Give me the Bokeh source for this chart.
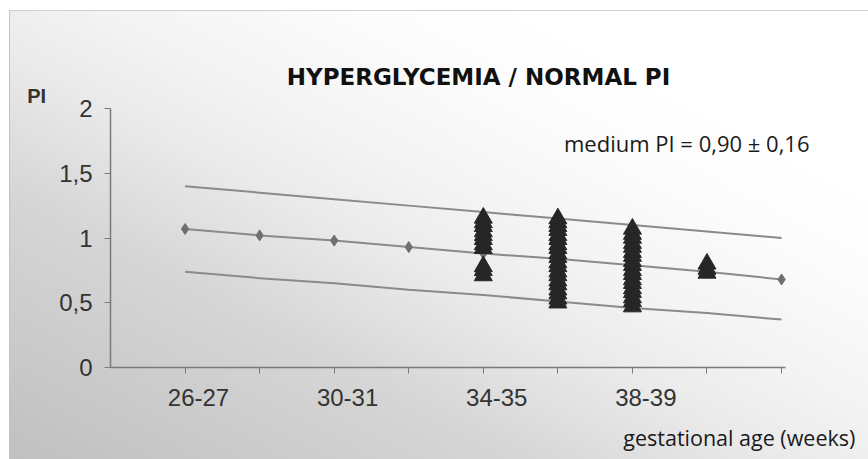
from bokeh.plotting import figure
from bokeh.models import Label, FixedTicker, Range1d
from bokeh.embed import file_html
from bokeh.resources import INLINE

# ---- data ----
categories = ["26-27", "28-29", "30-31", "32-33", "34-35", "36-37", "38-39", "40-41", "42-43"]
shown_labels = ["26-27", "30-31", "34-35", "38-39"]
upper_limit = [1.40, 1.35, 1.30, 1.25, 1.20, 1.15, 1.10, 1.05, 1.00]
median_pi = [1.07, 1.02, 0.98, 0.93, 0.88, 0.84, 0.79, 0.74, 0.68]
lower_limit = [0.74, 0.69, 0.65, 0.60, 0.56, 0.51, 0.46, 0.42, 0.37]

pi_34_35 = [0.71, 0.75, 0.78, 0.92, 0.95, 0.99, 1.02, 1.05, 1.09, 1.12, 1.155]
pi_36_37 = [0.50, 0.53, 0.57, 0.60, 0.64, 0.67, 0.71, 0.74, 0.78, 0.81, 0.85, 0.88,
            0.92, 0.95, 0.99, 1.02, 1.06, 1.09, 1.12, 1.15]
pi_38_39 = [0.47, 0.51, 0.54, 0.58, 0.61, 0.65, 0.68, 0.72, 0.75, 0.79, 0.82, 0.86,
            0.89, 0.93, 0.96, 1.00, 1.03, 1.07]
pi_40_41 = [0.73, 0.76, 0.80]
patients = {"34-35": pi_34_35, "36-37": pi_36_37, "38-39": pi_38_39, "40-41": pi_40_41}

y_ticks = [0, 0.5, 1, 1.5, 2]
y_tick_labels = ["0", "0,5", "1", "1,5", "2"]

title_text = "HYPERGLYCEMIA / NORMAL PI"
note_text = "medium PI = 0,90 \u00b1 0,16"
x_title = "gestational age (weeks)"
y_title = "PI"

# ---- positions ----
xpos = [i + 1 for i in range(len(categories))]
label_shift = 0.18

p = figure(width=868, height=459, output_backend="svg", toolbar_location=None,
           x_range=Range1d(-1.4753, 10.166), y_range=Range1d(-0.7104, 2.834),
           min_border=0, min_border_left=0, min_border_right=0,
           min_border_top=0, min_border_bottom=0)
p.styles = {
    "background": (
        "linear-gradient(#c4c4c4, #c4c4c4) 9px 10px / 1px 100% no-repeat, "
        "linear-gradient(#d0d0d0, #d0d0d0) 9px 10px / 100% 1px no-repeat, "
        "linear-gradient(to top right, #c0c0c0 0%, #d6d6d6 30%, #eaeaea 45%, "
        "#f3f3f3 55%, #fcfcfc 70%, #ffffff 80%) 9px 10px / calc(100% - 9px) calc(100% - 10px) no-repeat, "
        "#ffffff"
    )
}
p.background_fill_alpha = 0
p.border_fill_alpha = 0
p.outline_line_color = None
p.xgrid.visible = False
p.ygrid.visible = False

# limit lines and median
p.line(xpos, upper_limit, line_color="#8a8a8a", line_width=2)
p.line(xpos, lower_limit, line_color="#8a8a8a", line_width=2)
p.line(xpos, median_pi, line_color="#8a8a8a", line_width=2)
p.scatter(xpos, median_pi, marker="diamond", size=11, fill_color="#6f6f6f", line_color="#6f6f6f")

# patients
px, py = [], []
for cat, vals in patients.items():
    xi = xpos[categories.index(cat)]
    for v in vals:
        px.append(xi)
        py.append(v)
p.scatter(px, py, marker="triangle", size=18, fill_color="#262626", line_color="#262626")

# axes
xa = p.xaxis[0]
label_ticks = [xpos[categories.index(c)] + label_shift for c in shown_labels]
xa.ticker = FixedTicker(ticks=label_ticks, minor_ticks=xpos)
xa.major_label_overrides = {t: c for t, c in zip(label_ticks, shown_labels)}
xa.fixed_location = 0
xa.bounds = (0, 9.05)
xa.major_tick_out = 0
xa.major_tick_in = 0
xa.minor_tick_out = 6
xa.minor_tick_in = 0
xa.major_label_standoff = 15

ya = p.yaxis[0]
ya.ticker = FixedTicker(ticks=y_ticks, minor_ticks=[])
ya.major_label_overrides = {t: l for t, l in zip(y_ticks, y_tick_labels)}
ya.fixed_location = 0
ya.bounds = (0, 2)
ya.major_tick_out = 6
ya.major_tick_in = 0
ya.minor_tick_out = 0
ya.major_label_standoff = 12

for ax in (xa, ya):
    ax.axis_line_color = "#7a7a7a"
    ax.axis_line_width = 1.5
    ax.major_tick_line_color = "#7a7a7a"
    ax.minor_tick_line_color = "#7a7a7a"
    ax.major_label_text_font = "Liberation Sans"
    ax.major_label_text_font_size = "24px"
    ax.major_label_text_color = "#333333"

# texts
p.add_layout(Label(x=4.936, y=2.247, text=title_text, text_font="DejaVu Sans",
                   text_font_style="bold", text_font_size="23px", text_color="#111111",
                   text_align="center", text_baseline="middle"))
p.add_layout(Label(x=9.375, y=1.73, text=note_text, text_font="Open Sans",
                   text_font_size="22px", text_color="#1a1a1a",
                   text_align="right", text_baseline="middle"))
p.add_layout(Label(x=9.99, y=-0.54, text=x_title, text_font="Open Sans",
                   text_font_size="21.5px", text_color="#1a1a1a",
                   text_align="right", text_baseline="middle"))
p.add_layout(Label(x=-0.99, y=2.10, text=y_title, text_font="Liberation Sans",
                   text_font_style="bold", text_font_size="20px", text_color="#333333",
                   text_align="center", text_baseline="middle"))

open("out.html", "w").write(file_html(p, INLINE))
